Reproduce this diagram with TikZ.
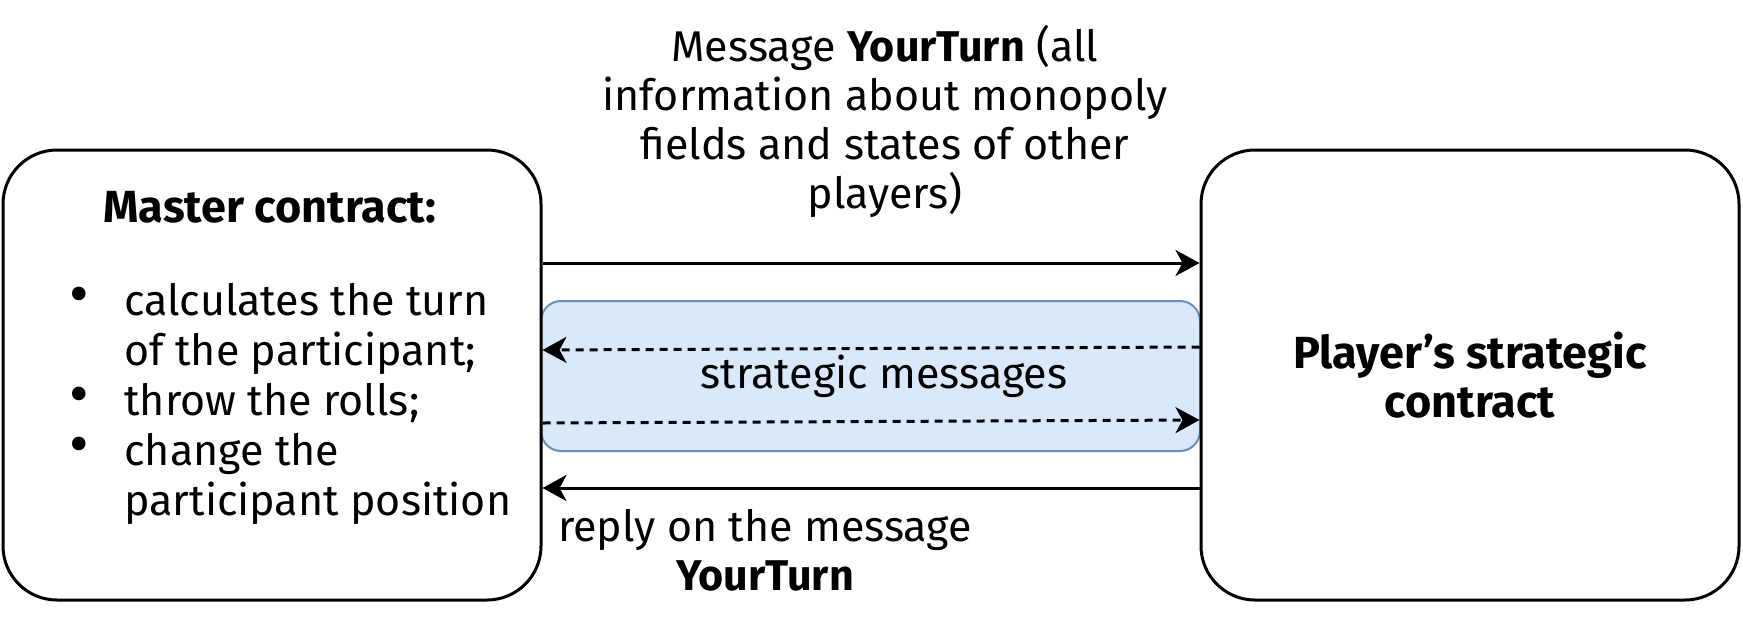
\documentclass[tikz,border=0pt]{standalone}
\usepackage{fontspec}
\setmainfont{Fira Sans}
\usetikzlibrary{arrows.meta}
\definecolor{bluefill}{HTML}{DAE8FC}
\definecolor{blueedge}{HTML}{6C8EBF}
\begin{document}
\begin{tikzpicture}[x=0.5pt,y=-0.5pt,
  box/.style={draw, fill=white, line width=1.5pt, rounded corners=27pt, minimum width=269pt, minimum height=225pt, inner sep=0pt},
  bluebox/.style={draw=blueedge, fill=bluefill, line width=1pt, rounded corners=10pt, minimum width=329.5pt, minimum height=75pt, inner sep=0pt},
  txt/.style={inner sep=0pt, font=\fontsize{21.5}{24.5}\selectfont},
  btxt/.style={inner sep=0pt, font=\fontsize{22.5}{24.5}\selectfont\bfseries},
  bul/.style={inner sep=0pt, font=\fontsize{21.5}{24.5}\selectfont, anchor=center},
  arr/.style={line width=1.5pt, -{Stealth[length=12pt,width=13pt,inset=3.5pt]}},
  darr/.style={arr, dash pattern=on 4pt off 3pt}]
\useasboundingbox (0,0) rectangle (1743,633);
\node[bluebox] (B) at (870.5,376) {};
\node[box] (L) at (272,375) {};
\node[box] (R) at (1470,375) {};
% texts
\node[btxt, anchor=base] (mt) at (270,222) {Master contract:};
\node[bul] (b1) at (79,301) {\scalebox{1.4}{\textbullet}};
\node[bul] (b2) at (79,401) {\scalebox{1.4}{\textbullet}};
\node[bul] (b3) at (79,451) {\scalebox{1.4}{\textbullet}};
\node[txt, anchor=base west] (l1) at (124,315) {calculates the turn};
\node[txt, anchor=base west] (l2) at (124,365) {of the participant;};
\node[txt, anchor=base west] (l3) at (124,415) {throw the rolls;};
\node[txt, anchor=base west] (l4) at (124,465) {change the};
\node[txt, anchor=base west] (l5) at (124,515) {participant position};
\node[btxt, align=center, anchor=base] (pl) at (1470,417) {Player's strategic\\contract};
\node[txt, anchor=base] (sm) at (884,388) {strategic messages};
\node[txt, align=center, anchor=base] (msg) at (885,208) {Message \textbf{YourTurn} (all\\information about monopoly\\fields and states of other\\players)};
\node[txt, align=center, anchor=base] (rep) at (765,590) {reply on the message\\\textbf{YourTurn}};
% connectors
\draw[arr] (L.east |- 0,263) -- (R.west |- 0,263);
\draw[darr] (R.west |- 0,347) -- (L.east |- 0,350);
\draw[darr] (L.east |- 0,423) -- (R.west |- 0,420);
\draw[arr] (R.west |- 0,488) -- (L.east |- 0,488);
\end{tikzpicture}
\end{document}
